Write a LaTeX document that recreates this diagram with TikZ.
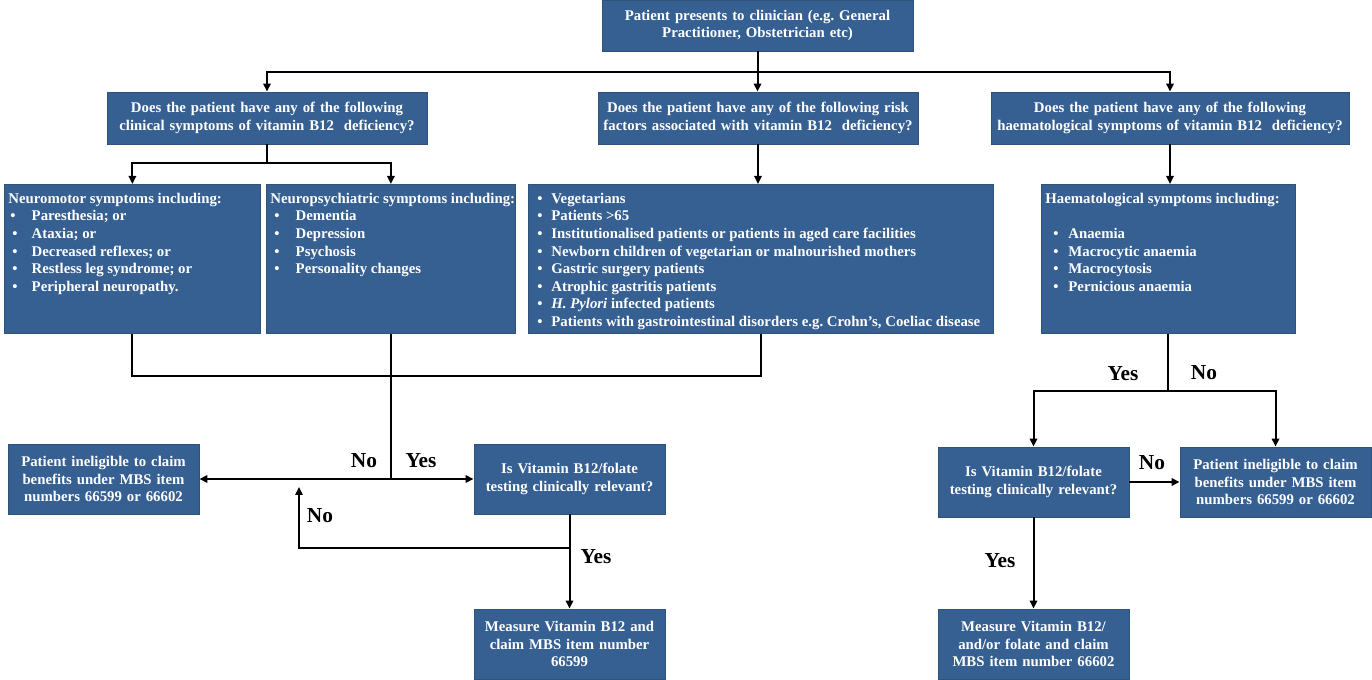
\documentclass[tikz,border=0pt]{standalone}
\usepackage{fontspec}
\setmainfont{Liberation Serif}
\usetikzlibrary{arrows.meta,calc}
\definecolor{boxblue}{RGB}{55,96,146}
\newcommand{\bitem}[3]{\hspace*{#1}\makebox[#2][l]{\textbullet}#3\par}
\frenchspacing
\begin{document}
\begin{tikzpicture}[x=0.75pt,y=-0.75pt,
 box/.style={fill=boxblue, draw=boxblue!85!black, line width=0.6pt, text=white, font=\bfseries\fontsize{11.1}{13.2}\selectfont, inner sep=0pt, align=center},
 lbox/.style={fill=boxblue, draw=boxblue!85!black, line width=0.6pt, text=white, font=\bfseries\fontsize{11.1}{13.2}\selectfont, inner sep=3pt, anchor=north west},
 conn/.style={line width=1.5pt},
 arr/.style={conn, -{Triangle[length=6pt,width=5.5pt]}},
 lab/.style={font=\bfseries\fontsize{16}{18}\selectfont, inner sep=0pt}]
\useasboundingbox (0,0) rectangle (1372,680);

% top row
\node[box, minimum width=233.25pt, minimum height=38.25pt, text width=233.25pt] (top) at (757.5,25.5)
  {Patient presents to clinician (e.g. General\\ Practitioner, Obstetrician etc)};

% questions
\node[box, minimum width=240pt, minimum height=39pt, text width=240pt] (q1) at (267,118)
  {Does the patient have any of the following\\ clinical symptoms of vitamin B12~~deficiency?};
\node[box, minimum width=240pt, minimum height=39pt, text width=240pt] (q2) at (758,118)
  {Does the patient have any of the following risk\\ \mbox{factors associated with vitamin B12~~deficiency?}};
\node[box, minimum width=268.5pt, minimum height=39pt, text width=268.5pt] (q3) at (1170,118)
  {Does the patient have any of the following\\ \mbox{haematological symptoms of vitamin B12~~deficiency?}};

% list boxes
\node[lbox] (nm) at (4,184) {\parbox[t][105.75pt][t]{186pt}{\raggedright\vspace*{3.5pt}%
  \mbox{Neuromotor symptoms including:}\par
  \bitem{1.5pt}{16pt}{Paresthesia; or}
  \bitem{3pt}{14.5pt}{Ataxia; or}
  \bitem{3pt}{14.5pt}{Decreased reflexes; or}
  \bitem{3pt}{14.5pt}{Restless leg syndrome; or}
  \bitem{3pt}{14.5pt}{Peripheral neuropathy.}}};
\node[lbox] (np) at (266,184) {\parbox[t][105.75pt][t]{180.75pt}{\raggedright\vspace*{3.5pt}%
  \mbox{Neuropsychiatric symptoms including:}\par
  \bitem{3pt}{16pt}{Dementia}
  \bitem{3pt}{16pt}{Depression}
  \bitem{3pt}{16pt}{Psychosis}
  \bitem{3pt}{16pt}{Personality changes}}};
\node[lbox] (risk) at (528,184) {\parbox[t][105.75pt][t]{342.75pt}{\raggedright\vspace*{3.5pt}%
  \bitem{3.75pt}{10.5pt}{Vegetarians}
  \bitem{3.75pt}{10.5pt}{Patients >65}
  \bitem{3.75pt}{10.5pt}{Institutionalised patients or patients in aged care facilities}
  \bitem{3.75pt}{10.5pt}{Newborn children of vegetarian or malnourished mothers}
  \bitem{3.75pt}{10.5pt}{Gastric surgery patients}
  \bitem{3.75pt}{10.5pt}{Atrophic gastritis patients}
  \bitem{3.75pt}{10.5pt}{\textit{H. Pylori} infected patients}
  \bitem{3.75pt}{10.5pt}{\mbox{Patients with gastrointestinal disorders e.g. Crohn’s, Coeliac disease}}}};
\node[lbox] (haem) at (1041,184) {\parbox[t][105.75pt][t]{184.5pt}{\raggedright\vspace*{3.5pt}%
  \mbox{Haematological symptoms including:}\par
  \mbox{}\par
  \bitem{6pt}{11.25pt}{Anaemia}
  \bitem{6pt}{11.25pt}{Macrocytic anaemia}
  \bitem{6pt}{11.25pt}{Macrocytosis}
  \bitem{6pt}{11.25pt}{Pernicious anaemia}}};

% bottom boxes
\node[box, minimum width=143.25pt, minimum height=52.5pt, text width=143.25pt] (i1) at (103.5,479)
  {Patient ineligible to claim\\ benefits under MBS item\\ numbers 66599 or 66602};
\node[box, minimum width=143.25pt, minimum height=52.5pt, text width=143.25pt] (q4) at (569.5,479)
  {Is Vitamin B12/folate\\ testing clinically relevant?};
\node[box, minimum width=143.25pt, minimum height=52.5pt, text width=143.25pt] (m1) at (569.5,644)
  {Measure Vitamin B12 and\\ claim MBS item number\\ 66599};
\node[box, minimum width=143.25pt, minimum height=52.5pt, text width=143.25pt] (q5) at (1033.5,482)
  {Is Vitamin B12/folate\\ testing clinically relevant?};
\node[box, minimum width=143.25pt, minimum height=52.5pt, text width=143.25pt] (i2) at (1275.5,482)
  {Patient ineligible to claim\\ benefits under MBS item\\ numbers 66599 or 66602};
\node[box, minimum width=143.25pt, minimum height=52.5pt, text width=143.25pt] (m2) at (1033.5,644)
  {Measure Vitamin B12/\\ and/or folate and claim\\ MBS item number 66602};

% connectors top
\draw[arr] (top.south) -- (top.south |- q2.north);
\draw[arr] (top.south) -- ++(0,21) -| (q1.north);
\draw[arr] (top.south) -- ++(0,21) -| (q3.north);
\draw[arr] (q1.south) -- ++(0,19) -| (nm.north);
\draw[arr] (q1.south) -- ++(0,19) -| (np.north);
\draw[arr] (q2.south) -- (q2.south |- risk.north);
\draw[arr] (q3.south) -- (q3.south |- haem.north);

% left lower
\draw[conn] (nm.south) -- ++(0,42) -| (risk.south);
\coordinate (j1) at (np.south |- i1.east);
\draw[conn] (np.south) -- (j1);
\draw[arr] (j1) -- (i1.east);
\draw[arr] (j1) -- (q4.west);
\draw[arr] (q4.south) -- (m1.north);
\coordinate (nofree) at (299,487);
\draw[arr] ($(q4.south)+(0,34)$) -| (nofree);

% right lower
\draw[arr] (haem.south) -- ++(0,57) -| (q5.north);
\draw[arr] (haem.south) -- ++(0,57) -| (i2.north);
\draw[arr] (q5.east) -- (i2.west);
\draw[arr] (q5.south) -- (m2.north);

% labels
\node[lab] (lno1) at (364,461) {No};
\node[lab] (lyes1) at (421,461) {Yes};
\node[lab] (lno2) at (320,516) {No};
\node[lab] (lyes2) at (596,557) {Yes};
\node[lab] (lyes3) at (1123,374) {Yes};
\node[lab] (lno3) at (1204,373) {No};
\node[lab] (lno4) at (1152,463) {No};
\node[lab] (lyes4) at (1000,561) {Yes};
\end{tikzpicture}
\end{document}
